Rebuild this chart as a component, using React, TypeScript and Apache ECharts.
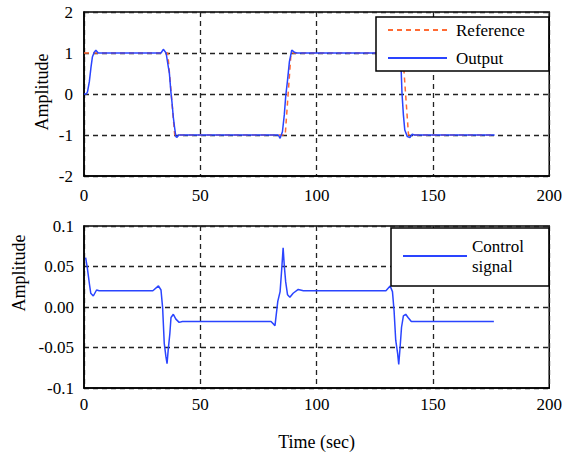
import React, { useEffect, useRef } from "react";
import * as echarts from "echarts";

// Top plot: reference square wave
const refTime = [0, 36, 39, 86.5, 89, 137, 139.5, 176.5];
const refValue = [1, 1, -1, -1, 1, 1, -1, -1];

// Top plot: system output
const outTime = [0, 1, 1.5, 2.3, 3.0, 3.6, 4.4, 5.1, 6.1, 33.1, 34.1, 35.3, 36.1, 36.7, 37.4, 37.8, 38.4, 38.9, 39.5, 40.0, 40.6, 41.5, 83.5, 84.3, 85.3, 86.1, 86.7, 87.5, 88.3, 89.3, 90.4, 91.4, 134.8, 135.5, 136.1, 136.4, 136.7, 137.3, 137.9, 139.0, 140.1, 141.1, 142.0, 176.5];
const outValue = [0, 0, 0.05, 0.3, 0.65, 0.9, 1.02, 1.07, 1.0, 1.0, 1.09, 1.0, 0.71, 0.51, 0.02, -0.19, -0.57, -0.8, -1.04, -1.06, -1.0, -1.0, -1.0, -1.08, -0.92, -0.51, -0.06, 0.34, 0.79, 1.07, 1.02, 1.0, 1.0, 1.08, 1.0, 0.5, 0.02, -0.51, -0.88, -1.04, -1.06, -0.98, -1.0, -1.0];

// Bottom plot: control signal
const ctrlTime = [0.7, 1.4, 2.3, 2.9, 4.0, 5.4, 6.5, 29.6, 32.0, 33.1, 33.8, 34.5, 35.2, 35.7, 36.2, 36.9, 37.4, 38.4, 39.5, 40.9, 42.3, 80.4, 82.1, 83.3, 84.3, 85.0, 85.6, 86.1, 86.7, 87.5, 88.5, 89.9, 92.1, 94.3, 129.8, 131.6, 132.6, 133.3, 134.0, 134.8, 135.3, 135.9, 136.5, 137.3, 138.3, 139.3, 140.7, 142.6, 176.2];
const ctrlValue = [0.061, 0.049, 0.029, 0.017, 0.0136, 0.021, 0.02, 0.02, 0.026, 0.021, -0.001, -0.045, -0.061, -0.07, -0.053, -0.033, -0.013, -0.009, -0.015, -0.019, -0.018, -0.018, -0.023, 0.007, 0.019, 0.047, 0.073, 0.051, 0.031, 0.015, 0.012, 0.017, 0.0217, 0.02, 0.02, 0.026, 0.019, -0.005, -0.041, -0.057, -0.071, -0.049, -0.025, -0.011, -0.009, -0.013, -0.018, -0.018, -0.018];

const topYLabels: Record<string, string> = { "2": "2", "1": "1", "0": "0", "-1": "-1", "-2": "-2" };
const bottomYLabels: Record<string, string> = { "0.1": "0.1", "0.05": "0.05", "0": "0.00", "-0.05": "-0.05", "-0.1": "-0.1" };

const pairs = (xs: number[], ys: number[]) => xs.map((x, i) => [x, ys[i]]);

const FONT = "'Liberation Serif', 'Times New Roman', serif";

export default function App() {
  const ref = useRef<HTMLDivElement>(null);
  useEffect(() => {
    if (!ref.current) return;
    const chart = echarts.init(ref.current, null, { renderer: "svg" });
    const split = { show: true, lineStyle: { color: "#222", type: [5, 4] as any, width: 1.3 } };
    const axisLabel = { color: "#000", fontFamily: FONT, fontSize: 17 };
    const axisLine = { show: true, onZero: false, lineStyle: { color: "#000", width: 1.5 } };
    const xBase = {
      type: "value" as const,
      min: 0,
      max: 200,
      interval: 50,
      axisLine,
      axisTick: { show: false },
      splitLine: split,
    };
    const yBase = {
      type: "value" as const,
      axisLine,
      axisTick: { show: false },
      splitLine: split,
    };
    const legendText = { color: "#000", fontFamily: FONT, fontSize: 17, lineHeight: 20 };
    chart.setOption({
      animation: false,
      backgroundColor: "#fff",
      textStyle: { fontFamily: FONT },
      grid: [
        { left: 84, top: 12, width: 469, height: 164, show: true, borderColor: "#000", borderWidth: 1.5, backgroundColor: "#fff" },
        { left: 84, top: 226, width: 469, height: 166, show: true, borderColor: "#000", borderWidth: 1.5, backgroundColor: "#fff" },
      ],
      xAxis: [
        { ...xBase, gridIndex: 0, axisLabel: { ...axisLabel, margin: 11 } },
        {
          ...xBase,
          gridIndex: 1,
          axisLabel: { ...axisLabel, margin: 8 },
          name: "Time (sec)",
          nameLocation: "middle",
          nameGap: 45,
          nameTextStyle: { color: "#000", fontFamily: FONT, fontSize: 18 },
        },
      ],
      yAxis: [
        {
          ...yBase,
          gridIndex: 0,
          min: -2,
          max: 2,
          interval: 1,
          axisLabel: { ...axisLabel, margin: 11, formatter: (v: number) => topYLabels[String(v)] ?? String(v) },
        },
        {
          ...yBase,
          gridIndex: 1,
          min: -0.1,
          max: 0.1,
          interval: 0.05,
          axisLabel: {
            ...axisLabel,
            margin: 10,
            formatter: (v: number) => bottomYLabels[String(Math.round(v * 100) / 100)] ?? String(v),
          },
        },
      ],
      legend: [
        {
          data: ["Reference", "Output"],
          orient: "vertical",
          left: 376,
          top: 17,
          padding: [3, 24, 3, 11],
          itemWidth: 59,
          itemHeight: 20,
          itemGap: 8,
          backgroundColor: "#fff",
          borderColor: "#000",
          borderWidth: 1.5,
          borderRadius: 0,
          itemStyle: { opacity: 0 },
          textStyle: { ...legendText, padding: [0, 0, 0, 4] },
        },
        {
          data: ["Control\nsignal"],
          orient: "vertical",
          left: 391,
          top: 228,
          padding: [8, 25, 10, 11],
          itemWidth: 64,
          itemHeight: 20,
          backgroundColor: "#fff",
          borderColor: "#000",
          borderWidth: 1.5,
          borderRadius: 0,
          itemStyle: { opacity: 0 },
          textStyle: { ...legendText },
        },
      ],
      graphic: [
        {
          type: "text",
          x: 42,
          y: 92,
          rotation: Math.PI / 2,
          style: { text: "Amplitude", fontFamily: FONT, fontSize: 18, fill: "#000", textAlign: "center", textVerticalAlign: "middle" },
        },
        {
          type: "text",
          x: 19,
          y: 273,
          rotation: Math.PI / 2,
          style: { text: "Amplitude", fontFamily: FONT, fontSize: 18, fill: "#000", textAlign: "center", textVerticalAlign: "middle" },
        },
      ],
      series: [
        {
          name: "Reference",
          type: "line",
          xAxisIndex: 0,
          yAxisIndex: 0,
          data: pairs(refTime, refValue),
          showSymbol: false,
          symbol: "none",
          itemStyle: { color: "#ff6a33" },
          lineStyle: { color: "#ff6a33", width: 1.5, type: [5, 4] as any },
          z: 2,
        },
        {
          name: "Output",
          type: "line",
          xAxisIndex: 0,
          yAxisIndex: 0,
          data: pairs(outTime, outValue),
          showSymbol: false,
          symbol: "none",
          itemStyle: { color: "#2a44ff" },
          lineStyle: { color: "#2a44ff", width: 1.5 },
          z: 3,
        },
        {
          name: "Control\nsignal",
          type: "line",
          xAxisIndex: 1,
          yAxisIndex: 1,
          data: pairs(ctrlTime, ctrlValue),
          showSymbol: false,
          symbol: "none",
          itemStyle: { color: "#2a44ff" },
          lineStyle: { color: "#2a44ff", width: 1.5 },
          z: 3,
        },
      ],
    });
    return () => chart.dispose();
  }, []);
  return <div ref={ref} style={{ position: "fixed", left: 0, top: 0, width: 565, height: 452 }} />;
}
